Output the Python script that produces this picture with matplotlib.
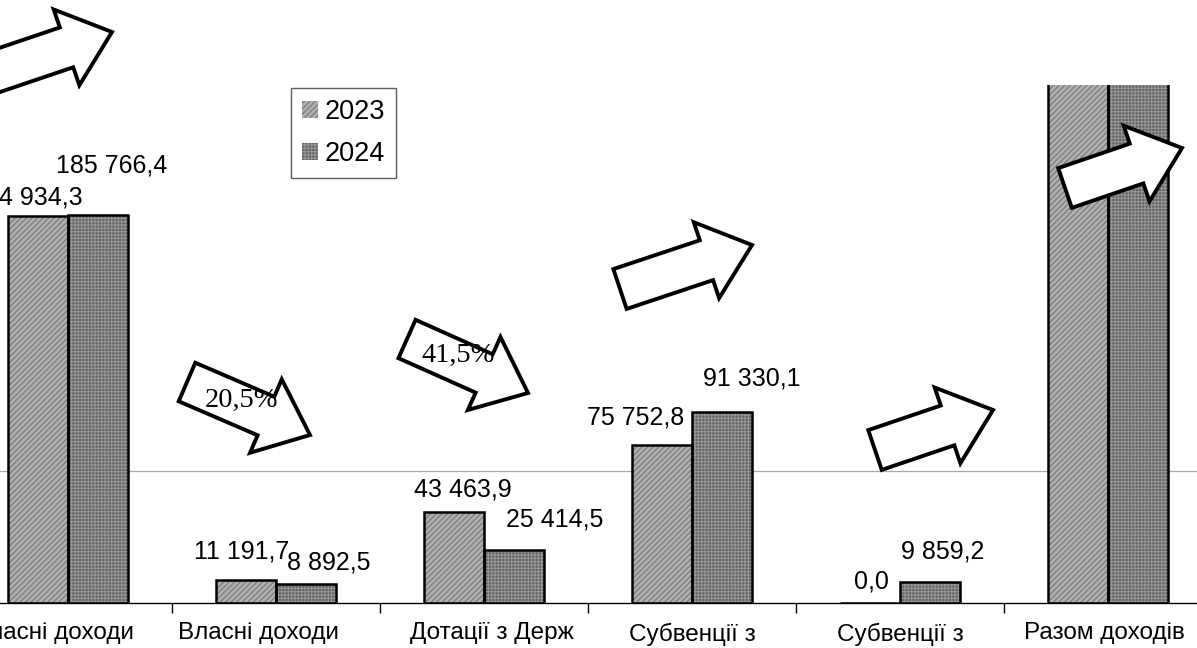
import matplotlib
matplotlib.use("Agg")
import matplotlib.pyplot as plt
import matplotlib.transforms as mtransforms
from matplotlib.patches import FancyArrow
import numpy as np

# Data (thousand UAH)
categories = ['Власні доходи', 'Власні доходи', 'Дотації з Держ',
              'Субвенції з', 'Субвенції з', 'Разом доходів']
years = ['2023', '2024']
values_2023 = [184934.3, 11191.7, 43463.9, 75752.8, 0.0, 315342.7]
values_2024 = [185766.4, 8892.5, 25414.5, 91330.1, 9859.2, 321262.7]
labels_2023 = ['184 934,3', '11 191,7', '43 463,9', '75 752,8', '0,0', None]
labels_2024 = ['185 766,4', '8 892,5', '25 414,5', '91 330,1', '9 859,2', None]
pct_texts = ['20,5%', '41,5%']

# label offsets from bar top, in pixels (dx, dy up)
off_2023 = [(-11, 19), (-4, 28), (9, 23), (-26, 27), (1, 22)]
off_2024 = [(14, 49), (23, 22), (41, 30), (30, 34), (13, 31)]
# horizontal shift of category labels, pixels
cat_shift = [-15, -18, 8, 0, 0, -4]

W, H = 1197, 648
fig = plt.figure(figsize=(W / 100, H / 100), dpi=100)
plt.rcParams['font.family'] = ['Liberation Sans', 'DejaVu Sans']

# axes is wider than the picture: the scan is cropped on both sides
ax = fig.add_axes([-36 / W, 45 / H, 1248 / W, 518 / H])

x = np.arange(len(categories))
w = 0.288
c23, h23 = '#b0b0b0', '#767676'
c24, h24 = '#606060', '#979797'

plt.rcParams['hatch.linewidth'] = 0.8
b1 = ax.bar(x - w / 2, values_2023, w, color=c23, edgecolor=h23, hatch='//////',
            linewidth=0, label=years[0], zorder=2)
b2 = ax.bar(x + w / 2, values_2024, w, color=c24, edgecolor=h24, hatch='+++++',
            linewidth=0, label=years[1], zorder=2)
ax.bar(x - w / 2, values_2023, w, fill=False, edgecolor='black', linewidth=1.8, zorder=3)
ax.bar(x + w / 2, values_2024, w, fill=False, edgecolor='black', linewidth=1.8, zorder=3)

ax.axhline(63000, color='#a8a8a8', linewidth=0.9, zorder=1)

ax.set_xlim(-0.5, len(categories) - 0.5)
ax.set_ylim(0, 247700)
for s in ['left', 'right', 'top']:
    ax.spines[s].set_visible(False)
ax.spines['bottom'].set_linewidth(1.0)
ax.set_yticks([])
ax.set_xticks(x)
ax.set_xticklabels(categories, fontsize=17.5)
ax.set_xticks(np.arange(len(categories) + 1) - 0.5, minor=True)
ax.tick_params(axis='x', which='major', length=0, pad=14)
ax.tick_params(axis='x', which='minor', length=7, width=1, direction='out')
for lab, sh in zip(ax.get_xticklabels(), cat_shift):
    lab.set_transform(lab.get_transform() +
                      mtransforms.ScaledTranslation(sh / 100, 0, fig.dpi_scale_trans))

px2pt = 72 / 100
for i, lab in enumerate(labels_2023):
    if lab is None:
        continue
    dx, dy = off_2023[i]
    ax.annotate(lab, (x[i] - w / 2, values_2023[i]), xytext=(dx * px2pt, dy * px2pt),
                textcoords='offset points', ha='center', va='center', fontsize=18)
for i, lab in enumerate(labels_2024):
    if lab is None:
        continue
    dx, dy = off_2024[i]
    ax.annotate(lab, (x[i] + w / 2, values_2024[i]), xytext=(dx * px2pt, dy * px2pt),
                textcoords='offset points', ha='center', va='center', fontsize=18)

leg = ax.legend(handles=[b1, b2], loc='upper left', bbox_to_anchor=(291 / W, 1 - 88 / H),
                bbox_transform=fig.transFigure, fontsize=19.5, frameon=True, fancybox=False,
                borderaxespad=0, handlelength=0.6, handleheight=0.6, handletextpad=0.25,
                labelspacing=0.6, borderpad=0.4)
leg.get_frame().set_edgecolor('#333333')
leg.get_frame().set_linewidth(1.0)

# block arrows drawn in pixel coordinates of the picture
pix = mtransforms.Affine2D().scale(1 / W, -1 / H).translate(0, 1) + fig.transFigure
arrows = [(-30, 80, 112, 32), (187, 382, 310, 435), (407, 339, 528, 393),
          (620, 289, 752, 245), (875, 450, 993, 410), (1065, 188, 1182, 148)]
for (x0, y0, x1, y1) in arrows:
    arr = FancyArrow(x0, y0, x1 - x0, y1 - y0, width=42, head_width=80, head_length=48,
                     length_includes_head=True, facecolor='white', edgecolor='black',
                     linewidth=2.8, joinstyle='miter', transform=pix, zorder=5)
    fig.add_artist(arr)

pct_pos = [(241, 400), (458, 355)]
for t, (tx, ty) in zip(pct_texts, pct_pos):
    fig.text(tx / W, 1 - ty / H, t, ha='center', va='center', fontsize=20.5,
             family=['Liberation Serif', 'DejaVu Serif'], zorder=6)

fig.savefig('out.png', dpi=100)
